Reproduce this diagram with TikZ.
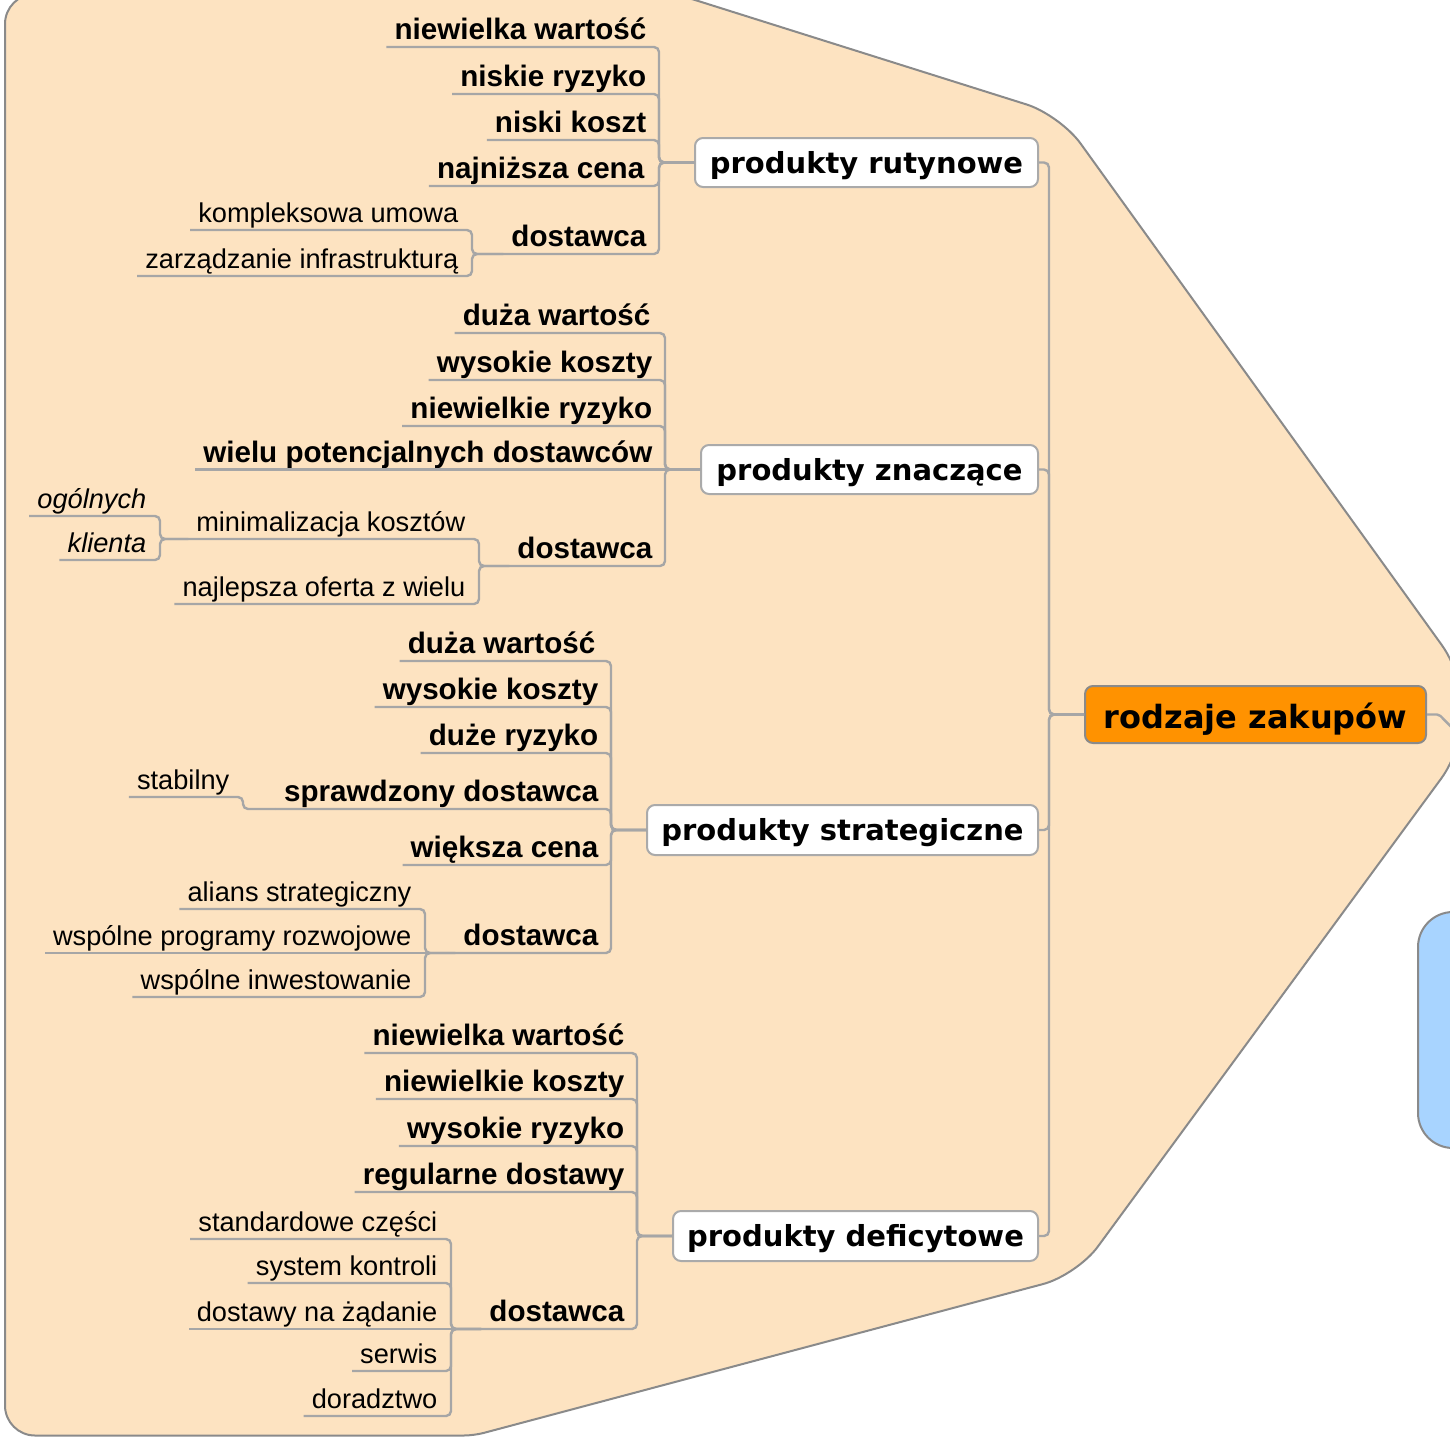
\documentclass[tikz,border=0pt]{standalone}
\usepackage{fontspec}
\newfontfamily\lsans{Liberation Sans}
\newfontfamily\dsans{DejaVu Sans}
\definecolor{peach}{RGB}{253,227,193}
\definecolor{bordercol}{RGB}{138,138,138}
\definecolor{conncol}{RGB}{166,166,166}
\definecolor{boxcol}{RGB}{170,170,170}
\definecolor{orangecol}{RGB}{255,146,0}
\definecolor{bluecol}{RGB}{168,212,255}
\tikzset{
  leafbase/.style={anchor=south east, inner xsep=8pt, inner ysep=0pt, text depth=7pt, text=black},
  lb/.style={leafbase, font=\lsans\bfseries\fontsize{29.6}{30}\selectfont},
  lr/.style={leafbase, font=\lsans\fontsize{27.2}{28}\selectfont},
  li/.style={leafbase, font=\lsans\itshape\fontsize{27.2}{28}\selectfont},
  conn/.style={draw=conncol, line width=2.4pt, rounded corners=5pt},
  branchbox/.style={draw=boxcol, fill=white, line width=2pt, rounded corners=8pt, inner sep=0pt,
    font=\dsans\bfseries\fontsize{29}{30}\selectfont, text height=22pt, text depth=1pt},
  centralbox/.style={draw=bordercol, fill=orangecol, line width=2pt, rounded corners=8pt, inner sep=0pt,
    font=\dsans\bfseries\fontsize{32}{34}\selectfont, text height=28pt, text depth=1pt,
    minimum width=341pt, minimum height=57pt},
  bluebox/.style={draw=bordercol, fill=bluecol, line width=2pt, rounded corners=35pt,
    minimum width=120pt, minimum height=236pt},
  boundary/.style={draw=bordercol, fill=peach, line width=2pt}
}
\begin{document}
\begin{tikzpicture}[x=1pt,y=-1pt]
\useasboundingbox (0,0) rectangle (1450,1437);
\clip (0,0) rectangle (1450,1437);
% boundary shape
\path[boundary] (5,700) [rounded corners=30pt] -- (5,-6) [rounded corners=20pt] -- (676,-6)
  [rounded corners=35pt] -- (1060,115) [rounded corners=83pt] -- (1490,712)
  [rounded corners=35pt] -- (1077,1275) [rounded corners=10pt] -- (474,1435.5)
  [rounded corners=30pt] -- (5,1435.5) [rounded corners=30pt] -- cycle;
% partially visible box on the right
\node[bluebox] (blue) at (1478,1030) {};
% central and branch nodes
\node[centralbox] (c) at (1255.5,714.5) {rodzaje zakupów};
\node[branchbox, minimum width=343pt, minimum height=49pt] (b1) at (866.5,162.5) {produkty rutynowe};
\node[branchbox, minimum width=337pt, minimum height=49pt] (b2) at (869.5,469.5) {produkty znaczące};
\node[branchbox, minimum width=391pt, minimum height=50pt] (b3) at (842.5,830) {produkty strategiczne};
\node[branchbox, minimum width=365pt, minimum height=50pt] (b4) at (855.5,1236) {produkty deficytowe};
% branch 1 leaves
\node[lb] (r1) at (654.5,47) {niewielka wartość};
\node[lb] (r2) at (654.5,94) {niskie ryzyko};
\node[lb] (r3) at (654.5,140) {niski koszt};
\node[lb] (r4) at (652.5,186) {najniższa cena};
\node[lb] (r5) at (654.5,254) {dostawca};
\node[lr] (r5a) at (466.5,230) {kompleksowa umowa};
\node[lr] (r5b) at (466.5,276) {zarządzanie infrastrukturą};
% branch 2 leaves
\node[lb] (z1) at (658.5,333) {duża wartość};
\node[lb] (z2) at (660.5,380) {wysokie koszty};
\node[lb] (z3) at (660.5,426) {niewielkie ryzyko};
\node[lb] (z4) at (660.5,469.5) {wielu potencjalnych dostawców};
\node[lb] (z5) at (660.5,566) {dostawca};
\node[lr] (z5a) at (473.5,539) {minimalizacja kosztów};
\node[lr] (z5b) at (473.5,604) {najlepsza oferta z wielu};
\node[li] (z5a1) at (154.5,516) {ogólnych};
\node[li] (z5a2) at (154.5,560) {klienta};
% branch 3 leaves
\node[lb] (s1) at (603.5,661) {duża wartość};
\node[lb] (s2) at (606.5,707) {wysokie koszty};
\node[lb] (s3) at (606.5,753) {duże ryzyko};
\node[lb] (s4) at (606.5,809) {sprawdzony dostawca};
\node[lr] (s4a) at (237.5,797) {stabilny};
\node[lb] (s5) at (606.5,865) {większa cena};
\node[lb] (s6) at (606.5,953) {dostawca};
\node[lr] (s6a) at (419.5,909) {alians strategiczny};
\node[lr] (s6b) at (419.5,953) {wspólne programy rozwojowe};
\node[lr] (s6c) at (419.5,997) {wspólne inwestowanie};
% branch 4 leaves
\node[lb] (d1) at (632.5,1053) {niewielka wartość};
\node[lb] (d2) at (632.5,1099) {niewielkie koszty};
\node[lb] (d3) at (632.5,1146) {wysokie ryzyko};
\node[lb] (d4) at (632.5,1192) {regularne dostawy};
\node[lb] (d5) at (632.5,1329) {dostawca};
\node[lr] (d5a) at (445.5,1239) {standardowe części};
\node[lr] (d5b) at (445.5,1283) {system kontroli};
\node[lr] (d5c) at (445.5,1329) {dostawy na żądanie};
\node[lr] (d5d) at (445.5,1371) {serwis};
\node[lr] (d5e) at (445.5,1416) {doradztwo};
% central connectors
\coordinate (cend) at (1466,742);
\draw[conn] (c.west) -- ++(-35,0) |- (b1.east);
\draw[conn] (c.west) -- ++(-35,0) |- (b2.east);
\draw[conn] (c.west) -- ++(-35,0) |- (b3.east);
\draw[conn] (c.west) -- ++(-35,0) |- (b4.east);
\draw[conn, rounded corners=2pt] (c.east) -- ++(12,0) -- (cend);
% branch 1 connectors
\foreach \n in {r1,r2,r3,r4,r5} \draw[conn] (b1.west) -- ++(-35,0) |- (\n.south west);
\foreach \n in {r5a,r5b} \draw[conn] (r5.south west) -- (472,254) |- (\n.south west);
% branch 2 connectors
\foreach \n in {z1,z2,z3,z5} \draw[conn] (b2.west) -- ++(-35,0) |- (\n.south west);
\draw[conn] (b2.west) -- (z4.south west);
\foreach \n in {z5a,z5b} \draw[conn] (z5.south west) -- (479,566) |- (\n.south west);
\foreach \n in {z5a1,z5a2} \draw[conn] (z5a.south west) -- (160,539) |- (\n.south west);
% branch 3 connectors
\foreach \n in {s1,s2,s3,s4,s5,s6} \draw[conn] (b3.west) -- ++(-35,0) |- (\n.south west);
\draw[conn] (s4.south west) -- (243,809) |- (s4a.south west);
\foreach \n in {s6a,s6c} \draw[conn] (s6.south west) -- (425,953) |- (\n.south west);
\draw[conn] (s6.south west) -- (s6b.south west);
% branch 4 connectors
\foreach \n in {d1,d2,d3,d4,d5} \draw[conn] (b4.west) -- ++(-35,0) |- (\n.south west);
\foreach \n in {d5a,d5b,d5d,d5e} \draw[conn] (d5.south west) -- (451,1329) |- (\n.south west);
\draw[conn] (d5.south west) -- (d5c.south west);
\end{tikzpicture}
\end{document}
